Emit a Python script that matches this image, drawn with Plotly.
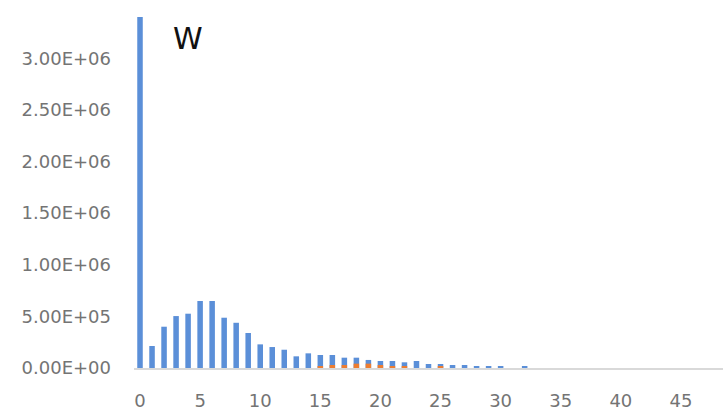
import plotly.graph_objects as go

categories = list(range(49))
series_blue = [3.40e6, 2.13e5, 4.00e5, 5.03e5, 5.26e5, 6.49e5, 6.49e5, 4.87e5, 4.38e5, 3.39e5,
               2.29e5, 2.03e5, 1.77e5, 1.13e5, 1.42e5, 1.26e5, 1.26e5, 1.00e5, 1.00e5, 7.8e4,
               6.8e4, 6.8e4, 5.5e4, 6.8e4, 3.9e4, 3.9e4, 2.9e4, 2.9e4, 1.9e4, 1.9e4,
               1.9e4, 0, 1.9e4, 0, 0, 0, 0, 0, 0, 0,
               0, 0, 0, 0, 0, 0, 0, 0, 0]
series_orange = [0, 0, 0, 0, 0, 0, 0, 0, 0, 0,
                 0, 0, 0, 0, 0, 1.3e4, 2.9e4, 2.9e4, 4.2e4, 4.2e4,
                 2.9e4, 1.6e4, 1.6e4, 0, 0, 1.9e4, 0, 0, 0, 0,
                 0, 0, 0, 0, 0, 0, 0, 0, 0, 0,
                 0, 0, 0, 0, 0, 0, 0, 0, 0]
y_tick_vals = [0, 5e5, 1e6, 1.5e6, 2e6, 2.5e6, 3e6]
y_tick_text = ["0.00E+00", "5.00E+05", "1.00E+06", "1.50E+06", "2.00E+06", "2.50E+06", "3.00E+06"]
x_tick_vals = [0, 5, 10, 15, 20, 25, 30, 35, 40, 45]
title_text = "W"

fig = go.Figure()
fig.add_trace(go.Bar(x=categories, y=series_blue, marker=dict(color="#5B8FD8", line=dict(width=0))))
fig.add_trace(go.Bar(x=categories, y=series_orange, marker=dict(color="#ED7D31", line=dict(width=0))))

fig.update_layout(
    width=723, height=412,
    margin=dict(l=134, r=0, t=17, b=44),
    barmode="overlay",
    bargap=0.54,
    showlegend=False,
    plot_bgcolor="white",
    paper_bgcolor="white",
    font=dict(family="DejaVu Sans", size=18, color="#747474"),
    annotations=[dict(text=title_text, xref="paper", yref="paper", x=0.091, y=0.94,
                      xanchor="center", yanchor="middle",
                      showarrow=False, font=dict(size=30, color="#111111", family="DejaVu Sans"))],
)
fig.update_xaxes(range=[-0.5, 48.5], tickmode="array", tickvals=x_tick_vals,
                 showgrid=False, zeroline=False, showline=True, linecolor="#D9D9D9", linewidth=1.5,
                 ticks="", ticklabelstandoff=16)
fig.update_yaxes(range=[0, 3.4e6], tickmode="array", tickvals=y_tick_vals, ticktext=y_tick_text,
                 showgrid=False, zeroline=False, showline=False, ticks="", ticklabelstandoff=22)

fig.write_html("out.html")
